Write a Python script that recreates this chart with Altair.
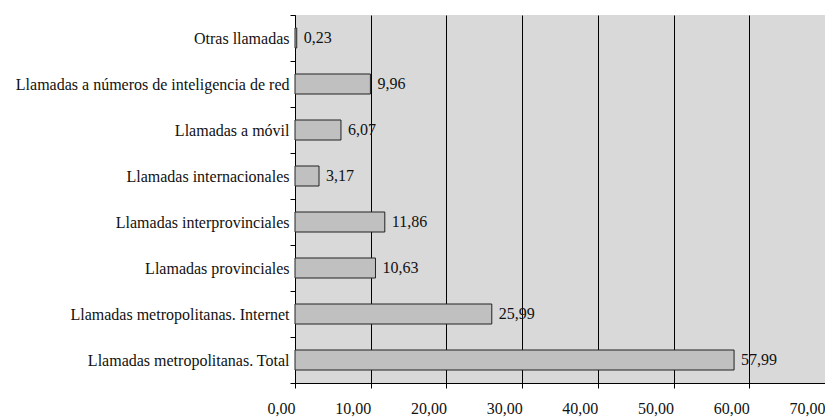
import altair as alt
import pandas as pd

categories = [
    "Otras llamadas",
    "Llamadas a números de inteligencia de red",
    "Llamadas a móvil",
    "Llamadas internacionales",
    "Llamadas interprovinciales",
    "Llamadas provinciales",
    "Llamadas metropolitanas. Internet",
    "Llamadas metropolitanas. Total",
]
values = [0.23, 9.96, 6.07, 3.17, 11.86, 10.63, 25.99, 57.99]
x_ticks = [0, 10, 20, 30, 40, 50, 60, 70]

df = pd.DataFrame({"cat": categories, "val": values})
df["lab"] = [f"{v:.2f}".replace(".", ",") for v in values]

FONT = "'Liberation Serif', 'DejaVu Serif', serif"
FS = 16

y = alt.Y("cat:N", sort=categories, title=None,
          scale=alt.Scale(paddingInner=0, paddingOuter=0),
          axis=alt.Axis(tickBand="extent", domainColor="black", tickColor="black",
                        tickSize=5, labelFont=FONT, labelFontSize=FS,
                        labelColor="#111", labelPadding=1, labelLimit=400))
x = alt.X("val:Q", title=None,
          scale=alt.Scale(domain=[0, 70], nice=False),
          axis=alt.Axis(values=x_ticks, grid=True, gridColor="black", gridWidth=1,
                        gridOpacity=1, domainColor="black", tickColor="black",
                        tickSize=5, labelPadding=12, labelFont=FONT, labelFontSize=FS,
                        labelColor="#111", labelAlign="right", labelFlush=False,
                        labelOverlap=False,
                        labelExpr="replace(format(datum.value, '.2f'), '.', ',')"))

base = alt.Chart(df)
bars = base.mark_bar(fill="#c0c0c0", stroke="#222", strokeWidth=1,
                     size=20).encode(x=x, y=y)
text = base.mark_text(align="left", baseline="middle", dx=7, font=FONT,
                      fontSize=FS, color="#111").encode(
    x="val:Q", y=alt.Y("cat:N", sort=categories), text="lab:N")

chart = (bars + text).properties(
    width=530, height=368,
    autosize=alt.AutoSizeParams(type="none"),
    padding={"left": 287, "top": 7, "right": 0, "bottom": 36},
).configure_view(fill="#d9d9d9", stroke=None)

chart.save("out.html", embed_options={"renderer": "svg", "actions": False})
